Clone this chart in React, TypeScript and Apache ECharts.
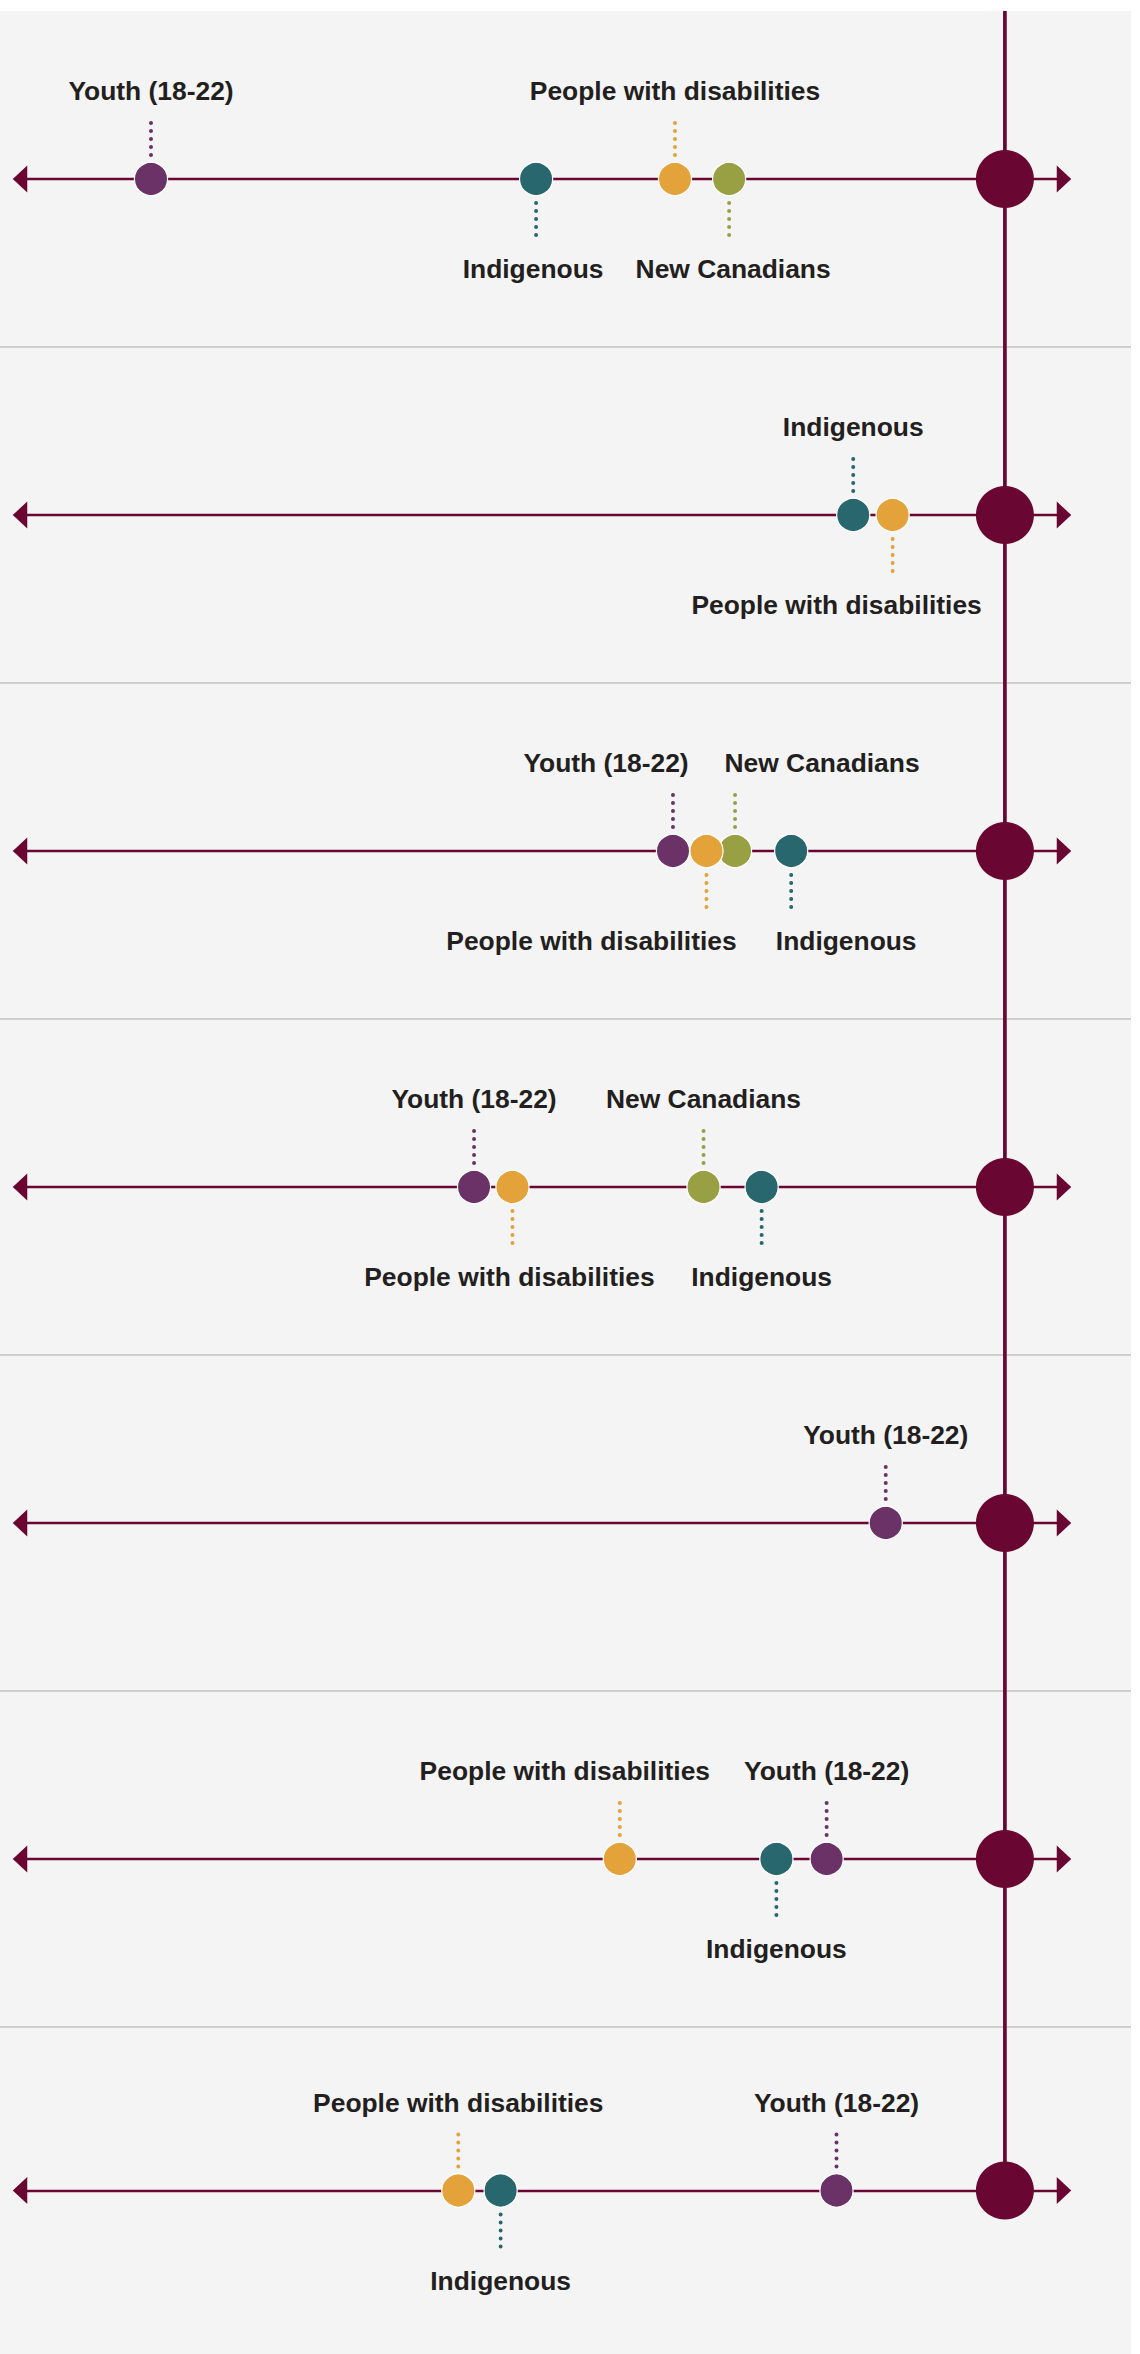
import React, { useEffect, useRef } from "react";
import * as echarts from "echarts";

// ---- data (x positions on a common scale; reference = 100) ----
const groupNames = ["Youth (18-22)", "New Canadians", "Indigenous", "People with disabilities"];
const youthValues = [13.3, null, 66.3, 46.1, 87.9, 81.9, 82.9];
const newCanadianValues = [72.0, null, 72.6, 69.4, null, null, null];
const indigenousValues = [52.4, 84.6, 78.3, 75.3, null, 76.8, 48.8];
const disabilityValues = [66.5, 88.6, 69.7, 50.0, null, 60.9, 44.5];
const referenceValues = [100, 100, 100, 100, 100, 100, 100];

// ---- label layout (1 = above, -1 = below; horizontal shift in px) ----
const youthLabelSide = [1, 1, 1, 1, 1, 1, 1];
const newCanadianLabelSide = [-1, 1, 1, 1, 1, 1, 1];
const indigenousLabelSide = [-1, 1, -1, -1, -1, -1, -1];
const disabilityLabelSide = [1, -1, -1, -1, 1, 1, 1];
const youthLabelShift = [0, 0, -67, 0, 0, 0, 0];
const newCanadianLabelShift = [4, 0, 87, 0, 0, 0, 0];
const indigenousLabelShift = [-3, 0, 55, 0, 0, 0, 0];
const disabilityLabelShift = [0, -56, -115, -3, 0, -55, 0];

// ---- styles ----
const MAROON = "#6a0632";
const TEXT = "#231f20";
const groupColors = ["#6b3268", "#99a044", "#27676d", "#e4a23b"];
const PANEL_H = 336;
const N = 7;

export default function App() {
  const ref = useRef<HTMLDivElement>(null);
  useEffect(() => {
    const chart = echarts.init(ref.current!, null, { renderer: "svg" });
    const grids: any[] = [];
    const xAxes: any[] = [];
    const yAxes: any[] = [];
    const series: any[] = [];
    const valueSets = [youthValues, newCanadianValues, indigenousValues, disabilityValues];
    const sideSets = [youthLabelSide, newCanadianLabelSide, indigenousLabelSide, disabilityLabelSide];
    const shiftSets = [youthLabelShift, newCanadianLabelShift, indigenousLabelShift, disabilityLabelShift];

    for (let i = 0; i < N; i++) {
      grids.push({ left: 20, width: 1044, top: i * PANEL_H, height: PANEL_H });
      xAxes.push({
        gridIndex: i,
        type: "value",
        min: 0,
        max: 106,
        axisLine: {
          show: true,
          onZero: true,
          symbol: ["triangle", "triangle"],
          symbolSize: [27, 14.5],
          lineStyle: { color: MAROON, width: 2.4 },
        },
        axisTick: { show: false },
        axisLabel: { show: false },
        splitLine: { show: false },
      });
      yAxes.push({ gridIndex: i, type: "value", min: -168, max: 168, show: false });

      const isLast = i === N - 1;
      series.push({
        type: "custom",
        xAxisIndex: i,
        yAxisIndex: i,
        encode: { x: 0, y: 1 },
        data: [[referenceValues[i], 0]],
        renderItem: (_p: any, api: any) => {
          const c = api.coord([api.value(0), 0]);
          const top = api.coord([api.value(0), 168])[1];
          const bottom = isLast ? c[1] : api.coord([api.value(0), -168])[1];
          return {
            type: "group",
            children: [
              { type: "line", shape: { x1: c[0], y1: top, x2: c[0], y2: bottom }, style: { stroke: MAROON, lineWidth: 3.7 } },
              { type: "circle", shape: { cx: c[0], cy: c[1], r: 29 }, style: { fill: MAROON } },
            ],
          };
        },
      });

      const items: any[] = [];
      for (let g = 0; g < 4; g++) {
        const v = valueSets[g][i];
        if (v === null || v === undefined) continue;
        items.push([v, 0, g, sideSets[g][i], shiftSets[g][i]]);
      }
      series.push({
        type: "custom",
        xAxisIndex: i,
        yAxisIndex: i,
        encode: { x: 0, y: 1 },
        data: items,
        renderItem: (_p: any, api: any) => {
          const g = api.value(2);
          const side = api.value(3);
          const shift = api.value(4);
          const c = api.coord([api.value(0), 0]);
          const dir = side > 0 ? -1 : 1;
          const color = groupColors[g];
          return {
            type: "group",
            children: [
              {
                type: "line",
                shape: { x1: c[0], y1: c[1] + dir * 24, x2: c[0], y2: c[1] + dir * 64 },
                style: { stroke: color, lineWidth: 4, lineDash: [0.01, 8], lineCap: "round" },
              },
              {
                type: "circle",
                shape: { cx: c[0], cy: c[1], r: 16.6 },
                style: { fill: color, stroke: "#ffffff", lineWidth: 1.2 },
              },
              {
                type: "text",
                x: c[0] + shift,
                y: c[1] + (side > 0 ? -87.6 : 90.3),
                style: {
                  text: groupNames[g],
                  fill: TEXT,
                  fontSize: 26.4,
                  fontWeight: "bold",
                  fontFamily: '"Liberation Sans", Arial, sans-serif',
                  align: "center",
                  verticalAlign: "middle",
                },
              },
            ],
          };
        },
      });
    }

    const separators: any[] = [];
    for (let i = 1; i < N; i++) {
      separators.push({
        type: "line",
        shape: { x1: 0, y1: i * PANEL_H, x2: 1131, y2: i * PANEL_H },
        style: { stroke: "#c2c2c2", lineWidth: 1.5 },
        silent: true,
      });
    }

    chart.setOption({
      animation: false,
      grid: grids,
      xAxis: xAxes,
      yAxis: yAxes,
      graphic: { elements: separators },
      series,
    });
    return () => chart.dispose();
  }, []);

  return (
    <div
      ref={ref}
      style={{ position: "absolute", left: 0, top: 11, width: 1131, height: 2343, background: "#f4f4f4" }}
    />
  );
}
